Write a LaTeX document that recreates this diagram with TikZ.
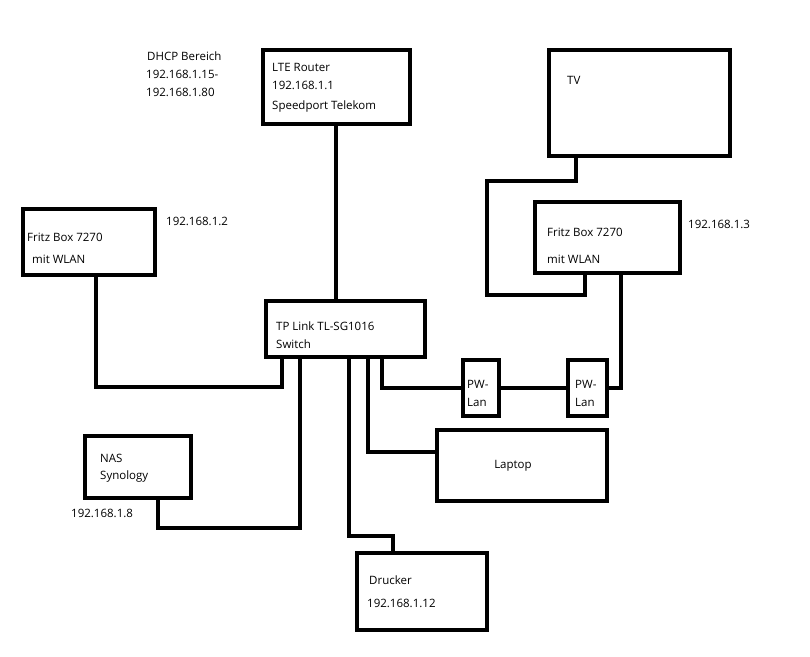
\documentclass[tikz,border=0pt]{standalone}
\usepackage{fontspec}
\setmainfont{Open Sans}
\begin{document}
\begin{tikzpicture}[x=1pt,y=-1pt,
  box/.style={draw=black,line width=4pt,inner sep=0pt},
  lnk/.style={draw=black,line width=4pt},
  lbl/.style={anchor=west,inner sep=0pt,font=\fontsize{11.5}{13}\selectfont}]
\useasboundingbox (0,0) rectangle (810,656);
% boxes
\node[box,minimum width=147pt,minimum height=74pt] (rt) at (336.5,87) {};
\node[box,minimum width=132pt,minimum height=66pt] (fl) at (89,242) {};
\node[box,minimum width=159pt,minimum height=56pt] (sw) at (345.5,329) {};
\node[box,minimum width=181pt,minimum height=106pt] (tv) at (639.5,103) {};
\node[box,minimum width=145pt,minimum height=71pt] (fr) at (607.5,237.5) {};
\node[box,minimum width=170pt,minimum height=71pt] (lap) at (522,465.5) {};
\node[box,minimum width=106pt,minimum height=62pt] (nas) at (138,467) {};
\node[box,minimum width=130pt,minimum height=77pt] (dr) at (422,591.5) {};
\node[box,minimum width=36pt,minimum height=56pt] (pw1) at (481,388) {};
\node[box,minimum width=39pt,minimum height=56pt] (pw2) at (587.5,388) {};
% texts
\node[lbl] (t1) at (147,56) {DHCP Bereich};
\node[lbl] (t2) at (146,74) {192.168.1.15-};
\node[lbl] (t3) at (146,92) {192.168.1.80};
\node[lbl] (t4) at (272,67) {LTE Router};
\node[lbl] (t5) at (272,85) {192.168.1.1};
\node[lbl] (t6) at (272,107) {Speedport Telekom};
\node[lbl] (t7) at (27,237) {Fritz Box 7270};
\node[lbl] (t8) at (32,259) {mit WLAN};
\node[lbl] (t9) at (166,221) {192.168.1.2};
\node[lbl] (t10) at (276,326) {TP Link TL-SG1016};
\node[lbl] (t11) at (276,344) {Switch};
\node[lbl] (t12) at (567,80) {TV};
\node[lbl] (t13) at (547,232) {Fritz Box 7270};
\node[lbl] (t14) at (547,259) {mit WLAN};
\node[lbl] (t15) at (688,224) {192.168.1.3};
\node[lbl] (t16) at (467,384) {PW-};
\node[lbl] (t17) at (467,402) {Lan};
\node[lbl] (t18) at (575,384) {PW-};
\node[lbl] (t19) at (575,402) {Lan};
\node[lbl,anchor=center] (t20) at (513,466) {Laptop};
\node[lbl] (t21) at (100,458) {NAS};
\node[lbl] (t22) at (100,477) {Synology};
\node[lbl] (t23) at (71,513) {192.168.1.8};
\node[lbl] (t24) at (369,580) {Drucker};
\node[lbl] (t25) at (367,603) {192.168.1.12};
% corner coordinates
\coordinate (c1) at (96,387);
\coordinate (c2) at (282,387);
\coordinate (c3) at (300,528);
\coordinate (c4) at (158,528);
\coordinate (c5) at (349,536);
\coordinate (c6) at (393,536);
\coordinate (c7) at (368,452);
\coordinate (c8) at (382,388);
\coordinate (c9) at (621,388);
\coordinate (c10) at (576,181);
\coordinate (c11) at (487,181);
\coordinate (c12) at (487,295);
\coordinate (c13) at (585,295);
\coordinate (c14) at (336,200);
% connectors
\draw[lnk] (rt.south -| c14) -- (sw.north -| c14);
\draw[lnk] (fl.south -| c1) -- (c1) -- (c2) -- (sw.south -| c2);
\draw[lnk] (sw.south -| c3) -- (c3) -- (c4) -- (nas.south -| c4);
\draw[lnk] (sw.south -| c5) -- (c5) -- (c6) -- (dr.north -| c6);
\draw[lnk] (sw.south -| c7) -- (c7) -- (lap.west |- c7);
\draw[lnk] (sw.south -| c8) -- (c8) -- (pw1.west |- c8);
\draw[lnk] (pw1) -- (pw2);
\draw[lnk] (pw2.east |- c9) -- (c9) -- (fr.south -| c9);
\draw[lnk] (tv.south -| c10) -- (c10) -- (c11) -- (c12) -- (c13) -- (fr.south -| c13);
\end{tikzpicture}
\end{document}
